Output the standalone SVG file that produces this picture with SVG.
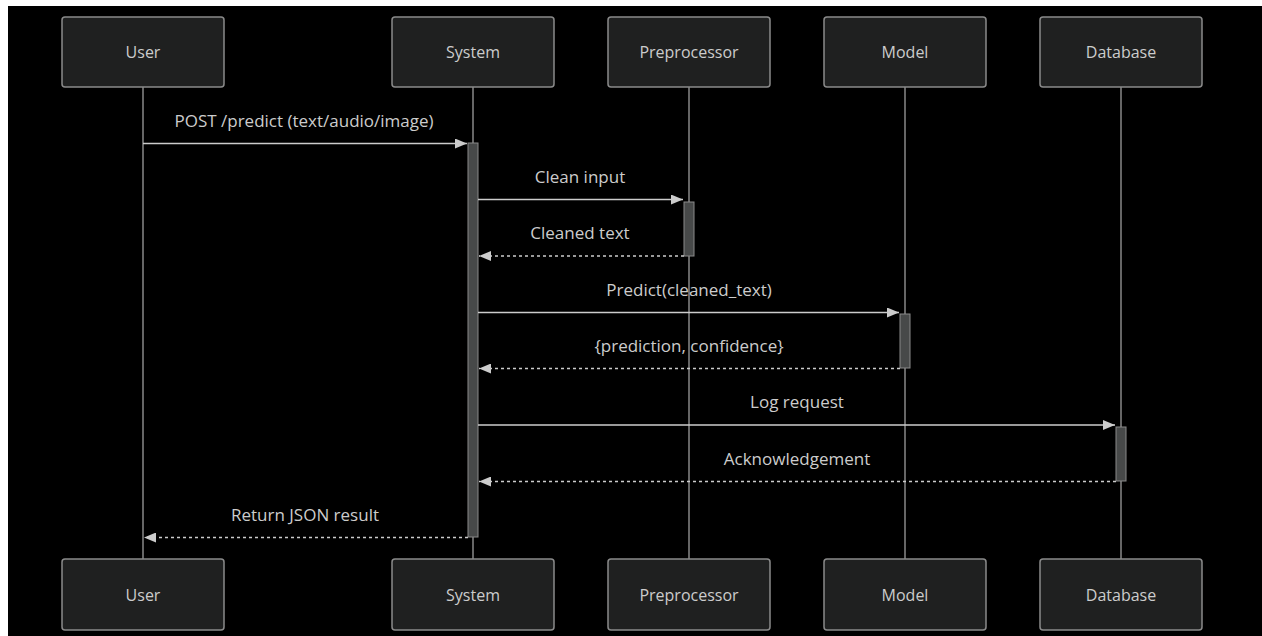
<svg xmlns="http://www.w3.org/2000/svg" width="1262" height="636" viewBox="0 0 1262 636">
<defs>
<style>
.bg{fill:#000000}
.actor rect{fill:#1f2020;stroke:#8a8a8a;stroke-width:1.5}
.actor text{fill:#cccccc;font-family:"Open Sans","Liberation Sans",sans-serif;font-size:16px;text-anchor:middle;dominant-baseline:central}
.life{stroke:#cccccc;stroke-width:1}
.act{fill:#474949;stroke:#8a8a8a;stroke-width:1}
.msg{stroke:#cccccc;stroke-width:1.5;fill:none}
.dash{stroke-dasharray:3,3}
.lbl{fill:#cccccc;font-family:"Open Sans","Liberation Sans",sans-serif;font-size:17px;text-anchor:middle;dominant-baseline:central}
</style>
<marker id="ah" viewBox="0 0 12 10" refX="12" refY="5" markerWidth="12" markerHeight="10" markerUnits="userSpaceOnUse" orient="auto">
<path d="M0,0 L12,5 L0,10 z" fill="#cccccc"/>
</marker>
</defs>
<rect x="0" y="0" width="1262" height="636" fill="#ffffff"/>
<rect class="bg" x="8" y="6" width="1254" height="630"/>

<g id="lifelines">
<line class="life" x1="143" y1="87" x2="143" y2="559"/>
<line class="life" x1="473" y1="87" x2="473" y2="559"/>
<line class="life" x1="689" y1="87" x2="689" y2="559"/>
<line class="life" x1="905" y1="87" x2="905" y2="559"/>
<line class="life" x1="1121" y1="87" x2="1121" y2="559"/>
</g>

<g id="activations">
<rect class="act" x="468" y="143" width="10" height="394"/>
<rect class="act" x="684" y="202" width="10" height="54"/>
<rect class="act" x="900" y="314" width="10" height="54"/>
<rect class="act" x="1116" y="427" width="10" height="54"/>
</g>

<g id="actor-user-top" class="actor"><rect x="62" y="17" width="162" height="70" rx="3"/><text x="143" y="52">User</text></g>
<g id="actor-system-top" class="actor"><rect x="392" y="17" width="162" height="70" rx="3"/><text x="473" y="52">System</text></g>
<g id="actor-preprocessor-top" class="actor"><rect x="608" y="17" width="162" height="70" rx="3"/><text x="689" y="52">Preprocessor</text></g>
<g id="actor-model-top" class="actor"><rect x="824" y="17" width="162" height="70" rx="3"/><text x="905" y="52">Model</text></g>
<g id="actor-database-top" class="actor"><rect x="1040" y="17" width="162" height="70" rx="3"/><text x="1121" y="52">Database</text></g>

<g id="actor-user-bottom" class="actor"><rect x="62" y="559" width="162" height="71" rx="3"/><text x="143" y="594.5">User</text></g>
<g id="actor-system-bottom" class="actor"><rect x="392" y="559" width="162" height="71" rx="3"/><text x="473" y="594.5">System</text></g>
<g id="actor-preprocessor-bottom" class="actor"><rect x="608" y="559" width="162" height="71" rx="3"/><text x="689" y="594.5">Preprocessor</text></g>
<g id="actor-model-bottom" class="actor"><rect x="824" y="559" width="162" height="71" rx="3"/><text x="905" y="594.5">Model</text></g>
<g id="actor-database-bottom" class="actor"><rect x="1040" y="559" width="162" height="71" rx="3"/><text x="1121" y="594.5">Database</text></g>

<g id="connectors">
<line class="msg" x1="143" y1="143.5" x2="467" y2="143.5" marker-end="url(#ah)"/>
<text class="lbl" x="304" y="120">POST /predict (text/audio/image)</text>

<line class="msg" x1="478" y1="199.5" x2="683" y2="199.5" marker-end="url(#ah)"/>
<text class="lbl" x="580" y="176">Clean input</text>

<line class="msg dash" x1="684" y1="256" x2="479" y2="256" marker-end="url(#ah)"/>
<text class="lbl" x="580" y="232">Cleaned text</text>

<line class="msg" x1="478" y1="312.5" x2="899" y2="312.5" marker-end="url(#ah)"/>
<text class="lbl" x="689" y="289">Predict(cleaned_text)</text>

<line class="msg dash" x1="900" y1="368.5" x2="479" y2="368.5" marker-end="url(#ah)"/>
<text class="lbl" x="689" y="345">{prediction, confidence}</text>

<line class="msg" x1="478" y1="425" x2="1115" y2="425" marker-end="url(#ah)"/>
<text class="lbl" x="797" y="401">Log request</text>

<line class="msg dash" x1="1116" y1="481.5" x2="479" y2="481.5" marker-end="url(#ah)"/>
<text class="lbl" x="797" y="458">Acknowledgement</text>

<line class="msg dash" x1="468" y1="537.5" x2="144" y2="537.5" marker-end="url(#ah)"/>
<text class="lbl" x="305" y="514">Return JSON result</text>
</g>
</svg>
